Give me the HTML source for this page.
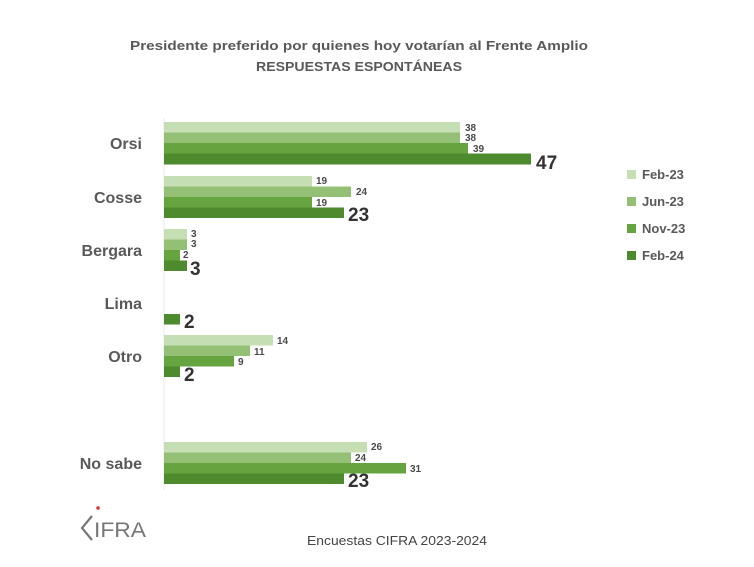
<!DOCTYPE html>
<html><head><meta charset="utf-8"><style>
html,body{margin:0;padding:0;background:#fff;}
svg{display:block;font-family:"Liberation Sans",sans-serif;}
</style></head><body>
<svg width="754" height="567" viewBox="0 0 754 567" xmlns="http://www.w3.org/2000/svg">
<rect width="754" height="567" fill="#fff"/>
<text x="359" y="50" text-anchor="middle" font-size="13" font-weight="bold" fill="#595959" textLength="458" lengthAdjust="spacingAndGlyphs">Presidente preferido por quienes hoy votarían al Frente Amplio</text>
<text x="359" y="71" text-anchor="middle" font-size="13" font-weight="bold" fill="#595959" textLength="206" lengthAdjust="spacingAndGlyphs">RESPUESTAS ESPONTÁNEAS</text>
<line x1="164" y1="118" x2="164" y2="490" stroke="#e8e8e8" stroke-width="1"/>
<g font-size="16" font-weight="bold" fill="#595959" text-anchor="end">
<text x="142" y="149">Orsi</text>
<text x="142" y="203">Cosse</text>
<text x="142" y="256">Bergara</text>
<text x="142" y="309">Lima</text>
<text x="142" y="362">Otro</text>
<text x="142" y="469">No sabe</text>
</g>
<g id="bars">
<!-- Orsi top 122 -->
<rect x="164" y="122" width="296" height="10.5" fill="#c5deb4"/>
<rect x="164" y="132.5" width="296" height="10.5" fill="#93c074"/>
<rect x="164" y="143" width="304" height="10.5" fill="#66a440"/>
<rect x="164" y="153.5" width="367" height="11" fill="#4e8a2e"/>
<!-- Cosse top 176 -->
<rect x="164" y="176" width="148" height="10.5" fill="#c5deb4"/>
<rect x="164" y="186.5" width="187" height="10.5" fill="#93c074"/>
<rect x="164" y="197" width="148" height="10.5" fill="#66a440"/>
<rect x="164" y="207.5" width="180" height="10.5" fill="#4e8a2e"/>
<!-- Bergara top 229 -->
<rect x="164" y="229" width="23" height="10.5" fill="#c5deb4"/>
<rect x="164" y="239.5" width="23" height="10.5" fill="#93c074"/>
<rect x="164" y="250" width="16" height="10.5" fill="#66a440"/>
<rect x="164" y="260.5" width="23" height="10.5" fill="#4e8a2e"/>
<!-- Lima -->
<rect x="164" y="314" width="16" height="10.5" fill="#4e8a2e"/>
<!-- Otro top 335 -->
<rect x="164" y="335" width="109" height="10.5" fill="#c5deb4"/>
<rect x="164" y="345.5" width="86" height="10.5" fill="#93c074"/>
<rect x="164" y="356" width="70" height="10.5" fill="#66a440"/>
<rect x="164" y="366.5" width="16" height="10.5" fill="#4e8a2e"/>
<!-- No sabe top 442 -->
<rect x="164" y="442" width="203" height="10.5" fill="#c5deb4"/>
<rect x="164" y="452.5" width="187" height="10.5" fill="#93c074"/>
<rect x="164" y="463" width="242" height="10.5" fill="#66a440"/>
<rect x="164" y="473.5" width="180" height="10.5" fill="#4e8a2e"/>
</g>
<g font-size="10" font-weight="bold" fill="#4a4a4a">
<text x="465" y="131">38</text><text x="465" y="141">38</text><text x="473" y="152">39</text>
<text x="316" y="184">19</text><text x="356" y="195">24</text><text x="316" y="206">19</text>
<text x="191" y="237">3</text><text x="191" y="247">3</text><text x="183" y="258">2</text>
<text x="277" y="344">14</text><text x="254" y="355">11</text><text x="238" y="365">9</text>
<text x="371" y="450">26</text><text x="355" y="461">24</text><text x="410" y="472">31</text>
</g>
<g font-size="19" font-weight="bold" fill="#333">
<text x="536" y="169">47</text>
<text x="348" y="221">23</text>
<text x="190" y="275">3</text>
<text x="184" y="328">2</text>
<text x="184" y="381">2</text>
<text x="348" y="487">23</text>
</g>
<g font-size="13" font-weight="bold" fill="#595959">
<rect x="627" y="170" width="9" height="9" fill="#c5deb4"/><text x="642" y="179">Feb-23</text>
<rect x="627" y="197" width="9" height="9" fill="#93c074"/><text x="642" y="206">Jun-23</text>
<rect x="627" y="224" width="9" height="9" fill="#66a440"/><text x="642" y="233">Nov-23</text>
<rect x="627" y="251" width="9" height="9" fill="#4e8a2e"/><text x="642" y="260">Feb-24</text>
</g>
<text x="307" y="545" font-size="13" fill="#444" textLength="180" lengthAdjust="spacingAndGlyphs">Encuestas CIFRA 2023-2024</text>
<g stroke="#777" stroke-width="2.2" fill="none">
<polyline points="92,516 82,528 92,540"/>
</g>
<circle cx="98" cy="508" r="1.8" fill="#d33"/>
<text x="94" y="537" font-size="21" fill="#777" textLength="52" lengthAdjust="spacingAndGlyphs">IFRA</text>
</svg>
</body></html>
